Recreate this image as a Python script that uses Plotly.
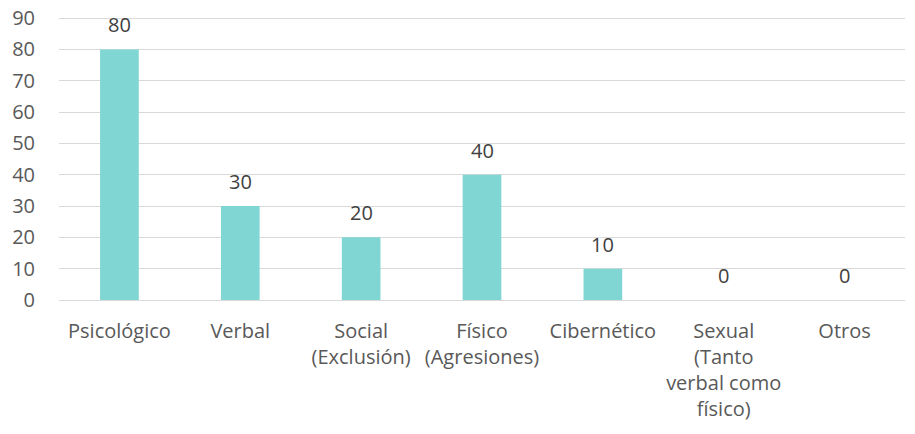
import plotly.graph_objects as go

categories = ["Psicológico", "Verbal", "Social<br>(Exclusión)", "Físico<br>(Agresiones)",
              "Cibernético", "Sexual<br>(Tanto<br>verbal como<br>físico)", "Otros"]
values = [80, 30, 20, 40, 10, 0, 0]
y_ticks = [0, 10, 20, 30, 40, 50, 60, 70, 80, 90]

font_family = "Open Sans, Noto Sans, sans-serif"
text_color = "#595959"
fs = 20

fig = go.Figure(go.Bar(
    x=categories, y=values,
    marker=dict(color="#7FD6D3", line=dict(width=0)),
))

for c, v in zip(categories, values):
    fig.add_annotation(x=c, y=v, text=str(v), showarrow=False, yanchor="bottom",
                       yshift=9, font=dict(size=fs, color="#404040", family=font_family))

fig.update_layout(
    width=915, height=434,
    margin=dict(l=59, r=10, t=15, b=134, autoexpand=False),
    paper_bgcolor="white", plot_bgcolor="white",
    bargap=0.68,
    showlegend=False,
    font=dict(family=font_family, size=fs, color=text_color),
    xaxis=dict(tickfont=dict(size=fs, color=text_color), showgrid=False,
               showline=False, ticks="", ticklabelstandoff=17, automargin=False),
    yaxis=dict(range=[0, 91], tickvals=y_ticks, showgrid=True, gridcolor="#D9D9D9",
               gridwidth=1.3, zeroline=True, zerolinecolor="#D9D9D9", zerolinewidth=1.3,
               showline=False, ticks="", tickfont=dict(size=fs, color=text_color),
               ticklabelstandoff=23, automargin=False, ticklabeloverflow="allow"),
)

fig.write_html("out.html", config={"displayModeBar": False},
               post_script="document.body.style.margin='0';")
